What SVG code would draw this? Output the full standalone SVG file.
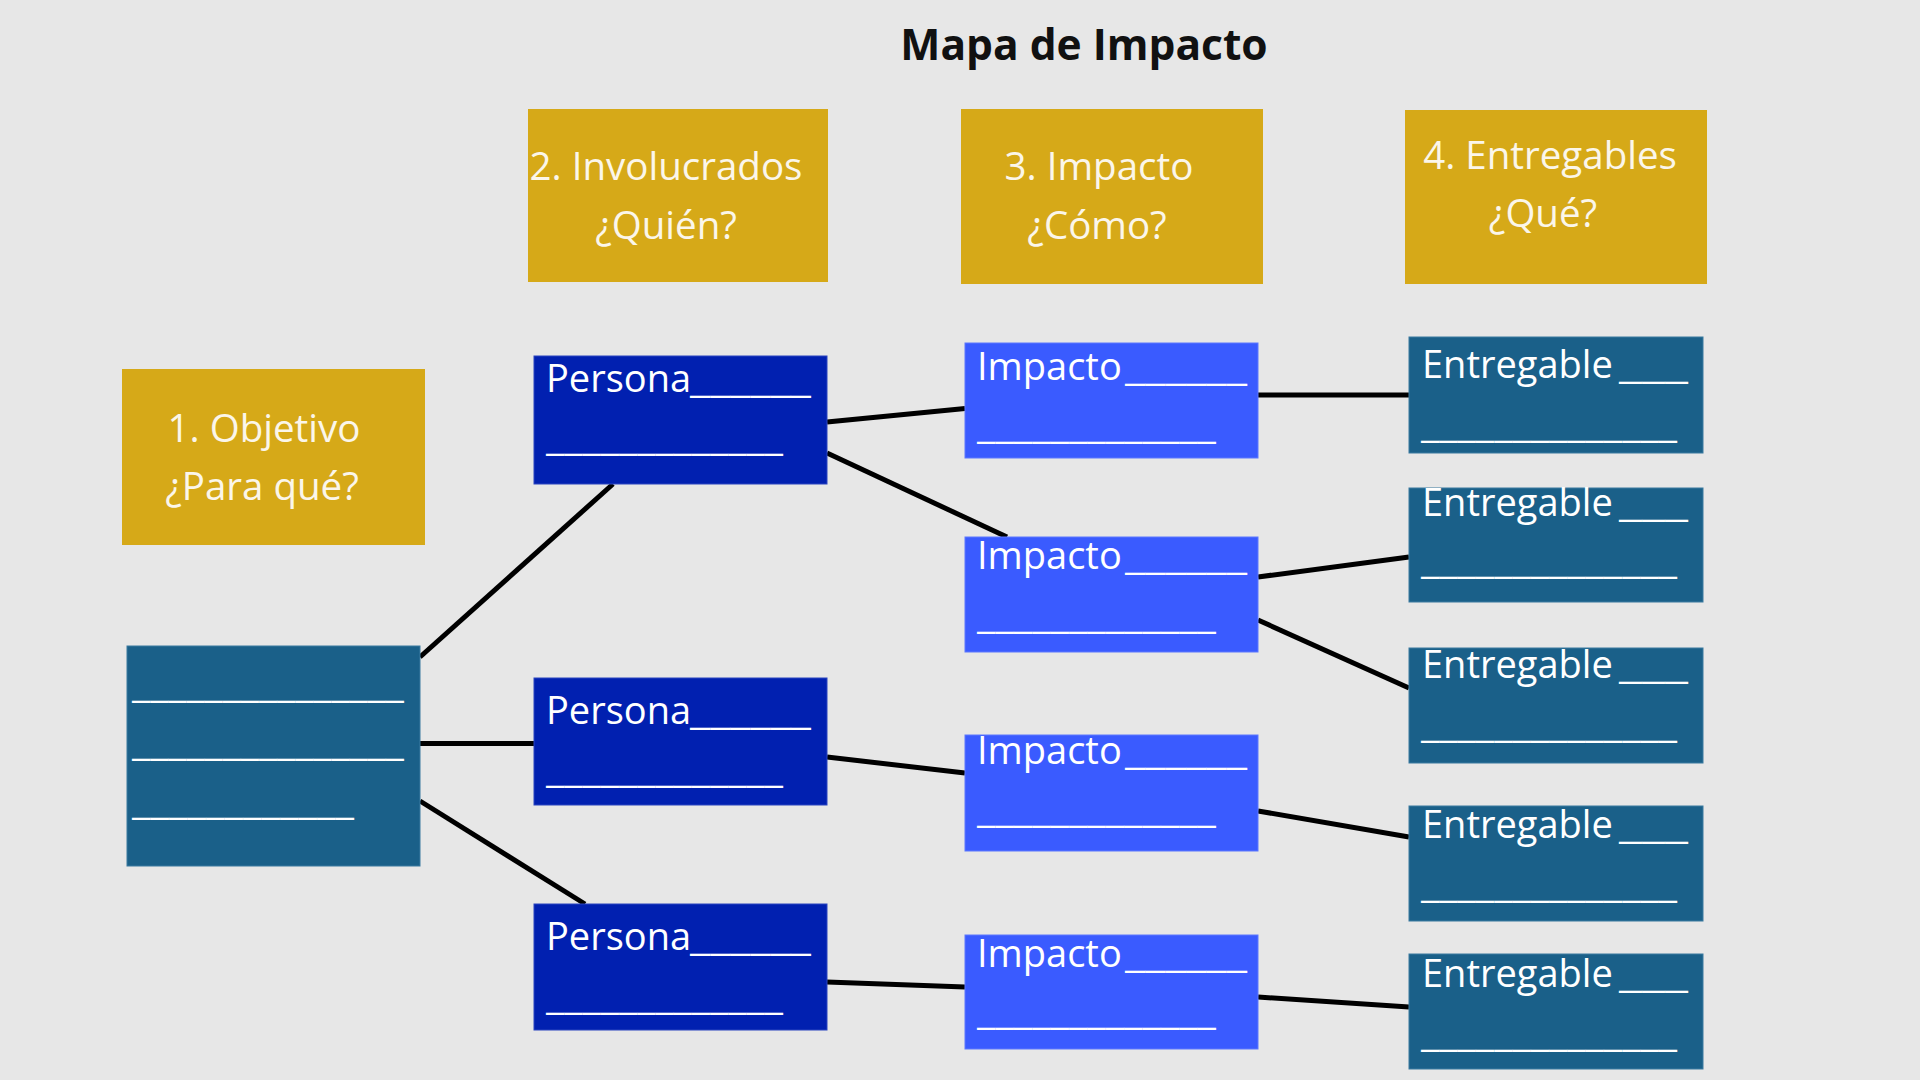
<svg xmlns="http://www.w3.org/2000/svg" width="1920" height="1080" viewBox="0 0 1920 1080">
<style>
.bg{fill:#E7E7E7}
.gold{fill:#D6A918}
.per{fill:#0120B0;stroke:#2A44C0;stroke-width:1}
.imp{fill:#3A5BFF;stroke:#5C78FF;stroke-width:1}
.teal{fill:#1A6089;stroke:#3A7AA0;stroke-width:1}
.t{font-family:"Open Sans","Noto Sans","Liberation Sans",sans-serif;font-size:38px;fill:#FFFFFF}
.h{font-family:"Open Sans","Noto Sans","Liberation Sans",sans-serif;font-size:38.5px;fill:#FBF6EA;text-anchor:middle}
.title{font-family:"Open Sans","Noto Sans","Liberation Sans",sans-serif;font-size:42.5px;font-weight:bold;fill:#111111;text-anchor:middle}
.c{stroke:#000000;stroke-width:5;fill:none;stroke-linecap:butt}
</style>
<rect class="bg" x="0" y="0" width="1920" height="1080"/>
<text class="title" x="1084" y="60">Mapa de Impacto</text>

<g id="connectors">
<line class="c" x1="420" y1="657" x2="613" y2="484"/>
<line class="c" x1="420" y1="743.5" x2="534" y2="743.5"/>
<line class="c" x1="420" y1="801" x2="585" y2="904"/>
<line class="c" x1="827" y1="422" x2="965" y2="408.5"/>
<line class="c" x1="827" y1="453" x2="1007" y2="537"/>
<line class="c" x1="827" y1="757" x2="965" y2="773"/>
<line class="c" x1="827" y1="982" x2="965" y2="987"/>
<line class="c" x1="1258" y1="395" x2="1409" y2="395"/>
<line class="c" x1="1258" y1="577" x2="1409" y2="557"/>
<line class="c" x1="1258" y1="620" x2="1409" y2="688"/>
<line class="c" x1="1258" y1="811" x2="1409" y2="837"/>
<line class="c" x1="1258" y1="997" x2="1409" y2="1007"/>
</g>

<g id="h1">
<rect class="gold" x="122" y="369" width="303" height="176"/>
<text class="h" x="264" y="442">1. Objetivo</text>
<text class="h" x="262" y="500">¿Para qué?</text>
</g>
<g id="h2">
<rect class="gold" x="528" y="109" width="300" height="173"/>
<text class="h" x="666" y="180">2. Involucrados</text>
<text class="h" x="666" y="239">¿Quién?</text>
</g>
<g id="h3">
<rect class="gold" x="961" y="109" width="302" height="175"/>
<text class="h" x="1099" y="180">3. Impacto</text>
<text class="h" x="1097" y="239">¿Cómo?</text>
</g>
<g id="h4">
<rect class="gold" x="1405" y="110" width="302" height="174"/>
<text class="h" x="1550" y="169">4. Entregables</text>
<text class="h" x="1543" y="227">¿Qué?</text>
</g>

<g id="objetivo">
<rect class="teal" x="127" y="646" width="293" height="220"/>
<text class="t" x="132" y="697" textLength="272" lengthAdjust="spacingAndGlyphs">_______________</text>
<text class="t" x="132" y="755" textLength="272" lengthAdjust="spacingAndGlyphs">_______________</text>
<text class="t" x="132" y="814" textLength="222" lengthAdjust="spacingAndGlyphs">____________</text>
</g>

<g id="persona1">
<rect class="per" x="534" y="356" width="293" height="128"/>
<text class="t" x="546" y="392">Persona<tspan x="690" textLength="121" lengthAdjust="spacingAndGlyphs">______</tspan></text>
<text class="t" x="546" y="450" textLength="237" lengthAdjust="spacingAndGlyphs">_____________</text>
</g>
<g id="persona2">
<rect class="per" x="534" y="678" width="293" height="127"/>
<text class="t" x="546" y="724">Persona<tspan x="690" textLength="121" lengthAdjust="spacingAndGlyphs">______</tspan></text>
<text class="t" x="546" y="782" textLength="237" lengthAdjust="spacingAndGlyphs">_____________</text>
</g>
<g id="persona3">
<rect class="per" x="534" y="904" width="293" height="126"/>
<text class="t" x="546" y="950">Persona<tspan x="690" textLength="121" lengthAdjust="spacingAndGlyphs">______</tspan></text>
<text class="t" x="546" y="1009" textLength="237" lengthAdjust="spacingAndGlyphs">_____________</text>
</g>

<g id="impacto1">
<rect class="imp" x="965" y="343" width="293" height="115"/>
<text class="t" x="977" y="380">Impacto<tspan x="1125" textLength="122" lengthAdjust="spacingAndGlyphs">______</tspan></text>
<text class="t" x="977" y="438" textLength="239" lengthAdjust="spacingAndGlyphs">_____________</text>
</g>
<g id="impacto2">
<rect class="imp" x="965" y="537" width="293" height="115"/>
<text class="t" x="977" y="569">Impacto<tspan x="1125" textLength="122" lengthAdjust="spacingAndGlyphs">______</tspan></text>
<text class="t" x="977" y="628" textLength="239" lengthAdjust="spacingAndGlyphs">_____________</text>
</g>
<g id="impacto3">
<rect class="imp" x="965" y="735" width="293" height="116"/>
<text class="t" x="977" y="764">Impacto<tspan x="1125" textLength="122" lengthAdjust="spacingAndGlyphs">______</tspan></text>
<text class="t" x="977" y="822" textLength="239" lengthAdjust="spacingAndGlyphs">_____________</text>
</g>
<g id="impacto4">
<rect class="imp" x="965" y="935" width="293" height="114"/>
<text class="t" x="977" y="967">Impacto<tspan x="1125" textLength="122" lengthAdjust="spacingAndGlyphs">______</tspan></text>
<text class="t" x="977" y="1024" textLength="239" lengthAdjust="spacingAndGlyphs">_____________</text>
</g>

<g id="entregable1">
<rect class="teal" x="1409" y="337" width="294" height="116"/>
<text class="t" x="1422" y="378">Entregable<tspan x="1619" textLength="69" lengthAdjust="spacingAndGlyphs">___</tspan></text>
<text class="t" x="1421" y="437" textLength="256" lengthAdjust="spacingAndGlyphs">______________</text>
</g>
<g id="entregable2">
<rect class="teal" x="1409" y="488" width="294" height="114"/>
<text class="t" x="1422" y="516">Entregable<tspan x="1619" textLength="69" lengthAdjust="spacingAndGlyphs">___</tspan></text>
<text class="t" x="1421" y="573" textLength="256" lengthAdjust="spacingAndGlyphs">______________</text>
</g>
<g id="entregable3">
<rect class="teal" x="1409" y="648" width="294" height="115"/>
<text class="t" x="1422" y="678">Entregable<tspan x="1619" textLength="69" lengthAdjust="spacingAndGlyphs">___</tspan></text>
<text class="t" x="1421" y="737" textLength="256" lengthAdjust="spacingAndGlyphs">______________</text>
</g>
<g id="entregable4">
<rect class="teal" x="1409" y="806" width="294" height="115"/>
<text class="t" x="1422" y="838">Entregable<tspan x="1619" textLength="69" lengthAdjust="spacingAndGlyphs">___</tspan></text>
<text class="t" x="1421" y="897" textLength="256" lengthAdjust="spacingAndGlyphs">______________</text>
</g>
<g id="entregable5">
<rect class="teal" x="1409" y="954" width="294" height="115"/>
<text class="t" x="1422" y="987">Entregable<tspan x="1619" textLength="69" lengthAdjust="spacingAndGlyphs">___</tspan></text>
<text class="t" x="1421" y="1046" textLength="256" lengthAdjust="spacingAndGlyphs">______________</text>
</g>
</svg>
